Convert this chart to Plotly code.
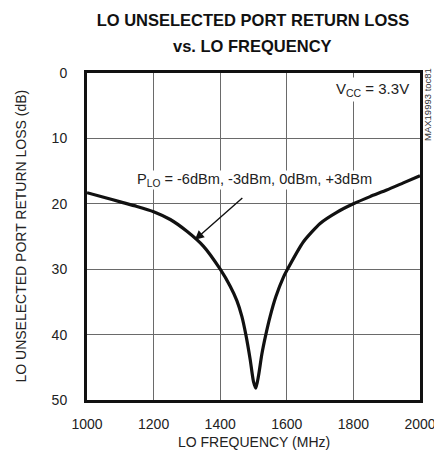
import plotly.graph_objects as go

freq_mhz = [1000, 1050, 1100, 1150, 1200, 1250, 1300, 1350, 1400, 1430, 1450, 1465, 1477, 1490, 1500, 1507, 1515, 1525, 1537, 1550, 1567, 1590, 1600, 1650, 1700, 1750, 1800, 1850, 1900, 1950, 2000]
return_loss_db = [18.3, 19.0, 19.7, 20.4, 21.2, 22.4, 24.2, 26.5, 30.0, 32.6, 34.8, 37.2, 40.0, 43.8, 47.2, 48.2, 46.3, 43.0, 40.0, 37.2, 34.2, 31.2, 30.2, 25.8, 23.0, 21.3, 20.0, 18.9, 17.9, 16.8, 15.7]

x_ticks = [1000, 1200, 1400, 1600, 1800, 2000]
y_ticks = [0, 10, 20, 30, 40, 50]

FONT = "Liberation Sans, Arial, sans-serif"
W, H = 434, 464

fig = go.Figure()
fig.add_trace(go.Scatter(x=freq_mhz, y=return_loss_db, mode="lines",
                         line=dict(color="#111111", width=3.2, shape="spline", smoothing=0.6),
                         showlegend=False, hoverinfo="skip"))

fig.update_layout(
    width=W, height=H,
    margin=dict(l=87, r=14, t=73, b=64),
    paper_bgcolor="white", plot_bgcolor="white",
    font=dict(family=FONT, size=14, color="#222"),
    title=dict(text="<b>LO UNSELECTED PORT RETURN LOSS</b>",
               x=253 / W, xanchor="center", y=1 - 20 / H, yanchor="middle",
               font=dict(family=FONT, size=16.5, color="#111")),
    xaxis=dict(range=[1000, 2000], tickvals=x_ticks, ticks="", showgrid=True,
               gridcolor="#6a6a6a", gridwidth=1, zeroline=False,
               showline=True, linecolor="#111", linewidth=3, mirror=True,
               automargin=False, ticklabeloverflow="allow", ticklabelstandoff=9,
               tickfont=dict(size=14, color="#222")),
    yaxis=dict(range=[50, 0], tickvals=y_ticks, ticks="", showgrid=True,
               gridcolor="#6a6a6a", gridwidth=1, zeroline=False,
               showline=True, linecolor="#111", linewidth=3, mirror=True,
               automargin=False, ticklabeloverflow="allow", ticklabelstandoff=14,
               tickfont=dict(size=14, color="#222")),
)

# second title line (paper coords: 0..1 spans the 327px plot height)
fig.add_annotation(x=0.497, y=(400 - 46) / 327, xref="paper", yref="paper",
                   xanchor="center", yanchor="middle", showarrow=False,
                   text="<b>vs. LO FREQUENCY</b>", font=dict(family=FONT, size=16.5, color="#111"))
# axis titles
fig.add_annotation(x=0.5, y=(400 - 442) / 327, xref="paper", yref="paper",
                   xanchor="center", yanchor="middle", showarrow=False,
                   text="LO FREQUENCY (MHz)", font=dict(size=14, color="#222"))
fig.add_annotation(x=(20 - 87) / 333, y=0.5, xref="paper", yref="paper",
                   xanchor="center", yanchor="middle", showarrow=False, textangle=-90,
                   text="LO UNSELECTED PORT RETURN LOSS (dB)", font=dict(size=14, color="#222"))

fig.add_annotation(x=1504, y=16.3, xref="x", yref="y",
                   text="P<sub>LO</sub> = -6dBm, -3dBm, 0dBm, +3dBm",
                   showarrow=False, font=dict(size=14.6, color="#222"),
                   bgcolor="white", borderpad=0)
fig.add_annotation(x=1324, y=25.5, ax=1471, ay=18.9, xref="x", yref="y", axref="x", ayref="y",
                   text="", showarrow=True, arrowhead=2, arrowsize=1.3, arrowwidth=1.4, arrowcolor="#111")
fig.add_annotation(x=1975, y=2.5, xref="x", yref="y", xanchor="right",
                   text="V<sub>CC</sub> = 3.3V", showarrow=False,
                   font=dict(size=15, color="#222"), bgcolor="white", borderpad=2)
fig.add_annotation(x=(427 - 87) / 333, y=(400 - 105) / 327, xref="paper", yref="paper",
                   xanchor="center", yanchor="middle",
                   text="MAX19993 toc81", textangle=-90, showarrow=False,
                   font=dict(size=9.5, color="#333"))

# remove the browser's default 8px page margin so the 434x464 figure fills the window
fig.write_html("out.html", config={"displayModeBar": False},
               post_script="document.body.style.margin='0';document.body.style.overflow='hidden';")
